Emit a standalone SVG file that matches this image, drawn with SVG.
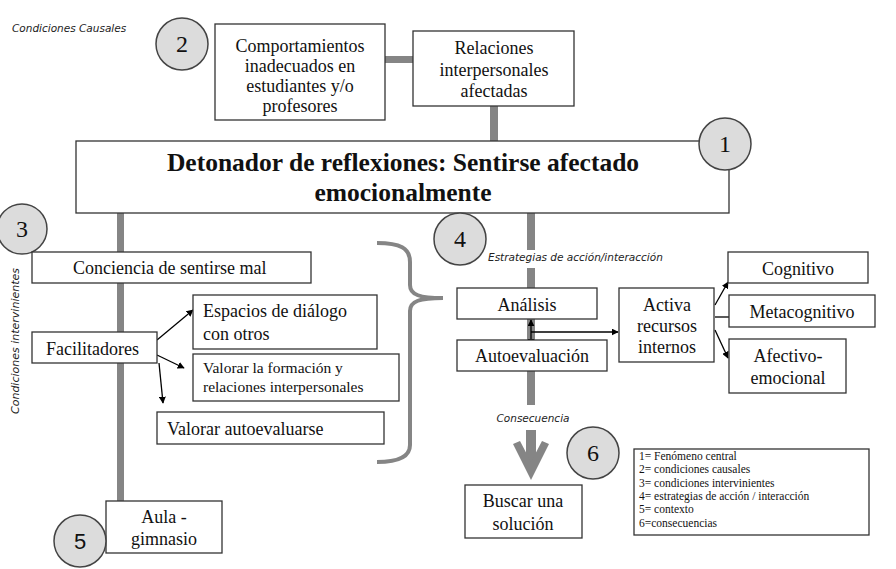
<svg xmlns="http://www.w3.org/2000/svg" width="896" height="569" viewBox="0 0 896 569">
<style>
.box{fill:#fff;stroke:#333;stroke-width:1.3}
.circ{fill:#dcdcdc;stroke:#444;stroke-width:1.5}
.t{font-family:'Liberation Serif','Times New Roman',serif;fill:#111;font-size:18px}
.c{text-anchor:middle}
.num{font-family:'Liberation Serif','Times New Roman',serif;font-size:24px;fill:#111;text-anchor:middle}
.num5{font-family:'Liberation Sans',Arial,sans-serif;font-size:22px;fill:#111;text-anchor:middle}
.lab{font-family:'DejaVu Sans',Verdana,sans-serif;font-style:italic;fill:#222;font-size:10.5px}
.bar{fill:#858585}
.arr{stroke:#000;stroke-width:1.3;fill:none}
.leg{font-family:'Liberation Serif','Times New Roman',serif;font-size:11.5px;fill:#111}
</style>
<defs>
<marker id="ah" viewBox="0 0 10 10" refX="9" refY="5" markerWidth="7" markerHeight="7" orient="auto-start-reverse" markerUnits="userSpaceOnUse">
<path d="M0,0 L10,5 L0,10 z" fill="#000"/>
</marker>
</defs>
<rect width="896" height="569" fill="#fff"/>

<text class="lab" x="12" y="32">Condiciones Causales</text>
<text class="lab" transform="translate(19,341) rotate(-90)" style="font-size:11px" text-anchor="middle">Condiciones intervinientes</text>
<text class="lab" x="488" y="261">Estrategias de acción/interacción</text>
<text class="lab" x="533" y="422" text-anchor="middle">Consecuencia</text>

<g id="connectors">
<rect class="bar" x="385" y="56" width="29" height="7"/>
<rect class="bar" x="490" y="106" width="8" height="35"/>
<rect class="bar" x="117" y="212" width="7" height="289"/>
<rect class="bar" x="527" y="212" width="8" height="38"/>
<rect class="bar" x="527" y="268" width="8" height="137"/>
<rect class="bar" x="526" y="430" width="10" height="38"/>
<polygon class="bar" points="513,444 520,441 531,462 542,441 549,444 531,480"/>
<path d="M377,243 C400,243 410,248 410,262 L410,285 C410,295 420,298 443,298 C420,298 410,301 410,311 L410,445 C410,456 400,462 377,462" fill="none" stroke="#858585" stroke-width="4"/>
<line class="arr" x1="157" y1="340" x2="193" y2="310" marker-end="url(#ah)"/>
<line class="arr" x1="157" y1="355" x2="184" y2="368" marker-end="url(#ah)"/>
<line class="arr" x1="159" y1="363" x2="163" y2="403" marker-end="url(#ah)"/>
<line class="arr" x1="531" y1="320" x2="531" y2="345" marker-start="url(#ah)" marker-end="url(#ah)"/>
<line class="arr" x1="531" y1="332" x2="618" y2="332" marker-end="url(#ah)"/>
<line class="arr" x1="715" y1="305" x2="728" y2="282" marker-end="url(#ah)"/>
<line class="arr" x1="715" y1="317" x2="737" y2="317" marker-end="url(#ah)"/>
<line class="arr" x1="715" y1="330" x2="728" y2="358" marker-end="url(#ah)"/>
</g>

<g id="n2"><circle class="circ" cx="182" cy="44" r="26"/><text class="num" x="182" y="52">2</text></g>
<g id="comportamientos"><rect class="box" x="215" y="24" width="170" height="96"/>
<text class="t c" x="300" y="52">Comportamientos</text><text class="t c" x="300" y="72">inadecuados en</text><text class="t c" x="300" y="92">estudiantes y/o</text><text class="t c" x="300" y="112">profesores</text></g>
<g id="relaciones"><rect class="box" x="413" y="31" width="161" height="75"/>
<text class="t c" x="494" y="54">Relaciones</text><text class="t c" x="494" y="76">interpersonales</text><text class="t c" x="494" y="97">afectadas</text></g>

<g id="detonador"><rect class="box" x="76" y="141" width="653" height="72"/>
<text class="t c" x="403" y="171" style="font-size:25.5px;font-weight:bold">Detonador de reflexiones: Sentirse afectado</text>
<text class="t c" x="403" y="201" style="font-size:25.5px;font-weight:bold">emocionalmente</text></g>
<g id="n1"><circle class="circ" cx="725" cy="144" r="26"/><text class="num" x="725" y="152">1</text></g>

<g id="n3"><circle class="circ" cx="22" cy="229" r="25"/><text class="num" x="22" y="237">3</text></g>
<g id="conciencia"><rect class="box" x="32" y="252" width="279" height="31"/><text class="t" x="73" y="274">Conciencia de sentirse mal</text></g>
<g id="facilitadores"><rect class="box" x="32" y="332" width="125" height="31"/><text class="t" x="46" y="355">Facilitadores</text></g>
<g id="espacios"><rect class="box" x="193" y="295" width="184" height="54"/><text class="t" x="203" y="317">Espacios de diálogo</text><text class="t" x="203" y="340">con otros</text></g>
<g id="valorar-formacion"><rect class="box" x="193" y="354" width="206" height="47"/><text class="t" x="203" y="373" style="font-size:15.5px">Valorar la formación y</text><text class="t" x="203" y="392" style="font-size:15.5px">relaciones interpersonales</text></g>
<g id="valorar-auto"><rect class="box" x="157" y="412" width="227" height="32"/><text class="t" x="167" y="435">Valorar autoevaluarse</text></g>
<g id="aula"><rect class="box" x="106" y="501" width="116" height="52"/><text class="t c" x="164" y="523">Aula -</text><text class="t c" x="164" y="545">gimnasio</text></g>
<g id="n5"><circle class="circ" cx="80" cy="541" r="26"/><text class="num5" x="80" y="549">5</text></g>

<g id="n4"><circle class="circ" cx="460" cy="239" r="26"/><text class="num" x="460" y="247">4</text></g>
<g id="analisis"><rect class="box" x="457" y="288" width="140" height="31"/><text class="t c" x="527" y="311">Análisis</text></g>
<g id="autoevaluacion"><rect class="box" x="457" y="340" width="150" height="31"/><text class="t c" x="532" y="362">Autoevaluación</text></g>
<g id="activa"><rect class="box" x="619" y="288" width="95" height="74"/><text class="t c" x="667" y="311">Activa</text><text class="t c" x="667" y="332">recursos</text><text class="t c" x="667" y="353">internos</text></g>
<g id="cognitivo"><rect class="box" x="728" y="252" width="140" height="31"/><text class="t c" x="798" y="275">Cognitivo</text></g>
<g id="metacognitivo"><rect class="box" x="729" y="295" width="146" height="32"/><text class="t c" x="802" y="318">Metacognitivo</text></g>
<g id="afectivo"><rect class="box" x="729" y="339" width="117" height="54"/><text class="t c" x="788" y="362">Afectivo-</text><text class="t c" x="788" y="384">emocional</text></g>

<g id="n6"><circle class="circ" cx="593" cy="453" r="26"/><text class="num" x="593" y="461">6</text></g>
<g id="buscar"><rect class="box" x="465" y="485" width="117" height="53"/><text class="t c" x="523" y="507">Buscar una</text><text class="t c" x="523" y="530">solución</text></g>
<g id="leyenda"><rect class="box" x="634" y="449" width="235" height="86"/>
<text class="leg" x="639" y="460">1= Fenómeno central</text>
<text class="leg" x="639" y="473">2= condiciones causales</text>
<text class="leg" x="639" y="487">3= condiciones intervinientes</text>
<text class="leg" x="639" y="500">4= estrategias de acción / interacción</text>
<text class="leg" x="639" y="513">5= contexto</text>
<text class="leg" x="639" y="527">6=consecuencias</text></g>
</svg>
